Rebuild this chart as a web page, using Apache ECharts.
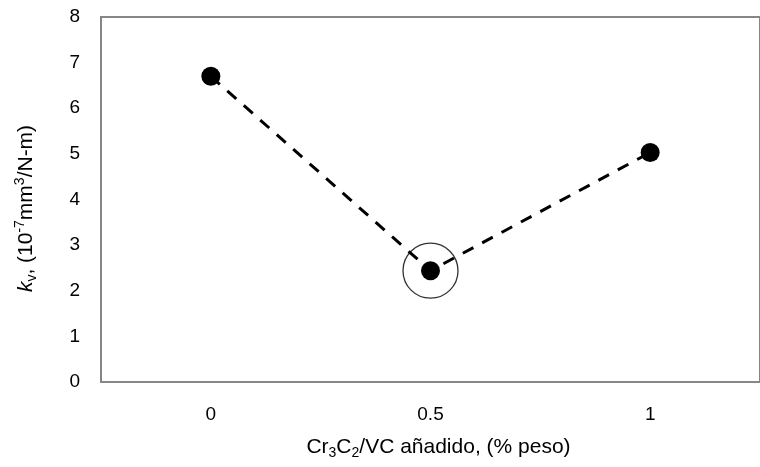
<!DOCTYPE html>
<html>
<head>
<meta charset="utf-8">
<script src="https://cdn.jsdelivr.net/npm/echarts@6/dist/echarts.min.js"></script>
<style>
  html, body { margin: 0; padding: 0; background: #fff; }
  #chart { width: 760px; height: 467px; }
</style>
</head>
<body>
<div id="chart"></div>
<script>
// Cr3C2/VC addition (wt %) and wear coefficient k_v (10^-7 mm^3/N-m)
const additions = ['0', '0.5', '1'];
const kvValues = [6.70, 2.44, 5.03];
const highlightIndex = 1;          // composition marked with a ring
const yTicks = { min: 0, max: 8, step: 1 };

const FONT = '"Liberation Sans", Arial, sans-serif';
const TXT = '#000';
const TICK_SIZE = 19;
const TITLE_SIZE = 21;
const SMALL_SIZE = 14;

const ringData = additions.map((c, i) => (i === highlightIndex ? kvValues[i] : '-'));

const chart = echarts.init(document.getElementById('chart'), null, { renderer: 'canvas' });

chart.setOption({
  animation: false,
  backgroundColor: '#fff',
  grid: {
    show: true,
    left: 101,
    top: 17,
    width: 674,
    bottom: 85,
    borderColor: '#868686',
    borderWidth: 2,
    backgroundColor: 'transparent'
  },
  xAxis: {
    type: 'category',
    data: additions,
    boundaryGap: true,
    axisLine: { show: true, lineStyle: { color: '#868686', width: 2 } },
    axisTick: { show: false },
    axisLabel: { color: TXT, fontFamily: FONT, fontSize: TICK_SIZE, margin: 23 },
    name: '{t|Cr}{sub|3}{t|C}{sub|2}{t|/VC añadido, (% peso)}',
    nameLocation: 'middle',
    nameGap: 52,
    nameTextStyle: {
      padding: [0, 0, 0, 16],
      rich: {
        t: { fontFamily: FONT, fontSize: TITLE_SIZE, color: TXT, lineHeight: 26 },
        sub: { fontFamily: FONT, fontSize: SMALL_SIZE, color: TXT, lineHeight: 14, verticalAlign: 'bottom' }
      }
    }
  },
  yAxis: {
    type: 'value',
    min: yTicks.min,
    max: yTicks.max,
    interval: yTicks.step,
    axisLine: { show: true, lineStyle: { color: '#868686', width: 2 } },
    axisTick: { show: false },
    splitLine: { show: false },
    axisLabel: { color: TXT, fontFamily: FONT, fontSize: TICK_SIZE, margin: 21 },
    name: '{i|k}{sub|v}{t|, (10}{sup|-7}{t|mm}{sup|3}{t|/N-m)}',
    nameLocation: 'middle',
    nameGap: 62,
    nameTextStyle: {
      padding: [0, 18, 0, 0],
      rich: {
        i: { fontFamily: FONT, fontSize: TITLE_SIZE, color: TXT, fontStyle: 'italic', lineHeight: 26 },
        t: { fontFamily: FONT, fontSize: TITLE_SIZE, color: TXT, lineHeight: 26 },
        sup: { fontFamily: FONT, fontSize: SMALL_SIZE, color: TXT, lineHeight: 14, verticalAlign: 'top' },
        sub: { fontFamily: FONT, fontSize: SMALL_SIZE, color: TXT, lineHeight: 14, verticalAlign: 'bottom' }
      }
    }
  },
  series: [
    {
      type: 'line',
      data: kvValues,
      symbol: 'circle',
      symbolSize: 19,
      itemStyle: { color: '#000' },
      lineStyle: { color: '#000', width: 3, type: [12, 10] },
      z: 3
    },
    {
      type: 'scatter',
      data: ringData,
      symbol: 'circle',
      symbolSize: 55,
      itemStyle: { color: 'rgba(0,0,0,0)', borderColor: '#000', borderWidth: 1.3 },
      silent: true,
      z: 4
    }
  ]
});
</script>
</body>
</html>
